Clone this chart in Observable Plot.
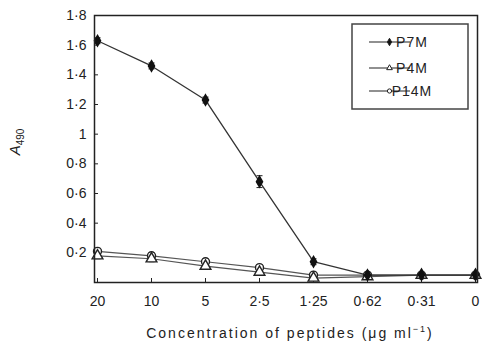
<!DOCTYPE html>
<html>
<head>
<meta charset="utf-8">
<script src="https://cdn.jsdelivr.net/npm/d3@7"></script>
<script src="https://cdn.jsdelivr.net/npm/@observablehq/plot@0.6"></script>
<style>
  html, body { margin: 0; padding: 0; background: #fff; }
  #chart { width: 485px; height: 349px; }
</style>
</head>
<body>
<div id="chart"></div>
<script>
// Categories (x axis, µg/ml)
const concentrations = ["20", "10", "5", "2·5", "1·25", "0·62", "0·31", "0"];
// Series values (A490)
const p7m  = [1.63, 1.46, 1.23, 0.68, 0.14, 0.05, 0.05, 0.05];
const p7mErr  = [0.02, 0.02, 0.02, 0.04, 0.02, 0.01, 0.01, 0.01];
const p4m  = [0.18, 0.16, 0.11, 0.07, 0.03, 0.04, 0.05, 0.05];
const p4mErr  = [0.02, 0.02, 0.02, 0.02, 0.01, 0.01, 0.01, 0.01];
const p14m = [0.21, 0.18, 0.14, 0.10, 0.05, 0.05, 0.05, 0.05];
const p14mErr = [0.02, 0.02, 0.02, 0.02, 0.01, 0.01, 0.01, 0.01];
const seriesNames = ["P7M", "P4M", "P14M"];
// Tick values / labels
const yTicks = [0.2, 0.4, 0.6, 0.8, 1, 1.2, 1.4, 1.6, 1.8];
const yTickLabels = ["0·2", "0·4", "0·6", "0·8", "1", "1·2", "1·4", "1·6", "1·8"];

const seriesValues = [p7m, p4m, p14m];
const seriesErrs = [p7mErr, p4mErr, p14mErr];
const rows = [];
seriesNames.forEach((s, si) => {
  concentrations.forEach((c, i) => {
    rows.push({series: s, conc: c, v: seriesValues[si][i], lo: seriesValues[si][i] - seriesErrs[si][i], hi: seriesValues[si][i] + seriesErrs[si][i]});
  });
});
const bySeries = s => rows.filter(d => d.series === s);
const font = "'Liberation Sans', Arial, Helvetica, sans-serif";
const ink = "#222";
const capSymbol = {draw(ctx) { ctx.moveTo(-3, 0); ctx.lineTo(3, 0); }};

const plot = Plot.plot({
  width: 485,
  height: 349,
  marginLeft: 94,
  marginRight: 8,
  marginTop: 15,
  marginBottom: 67,
  style: {fontFamily: font, fontSize: "14px", color: ink, background: "#fff"},
  x: {type: "point", domain: concentrations, padding: 0},
  y: {domain: [0, 1.8]},
  marks: [
    Plot.axisY({ticks: yTicks, tickSize: -4, tickPadding: 12, tickFormat: v => yTickLabels[yTicks.indexOf(v)], label: null, stroke: ink, style: "letter-spacing:1.5px"}),
    Plot.axisX({tickSize: -4, tickPadding: 18, label: null, stroke: ink, style: "letter-spacing:1.5px"}),
    // error bars
    Plot.ruleX(rows, {x: "conc", y1: "lo", y2: "hi", stroke: ink, strokeWidth: 1}),
    Plot.dot(rows, {x: "conc", y: "lo", symbol: capSymbol, stroke: ink, strokeWidth: 1}),
    Plot.dot(rows, {x: "conc", y: "hi", symbol: capSymbol, stroke: ink, strokeWidth: 1}),
    // lines
    Plot.line(bySeries("P14M"), {x: "conc", y: "v", stroke: "#555", strokeWidth: 1.2}),
    Plot.line(bySeries("P4M"), {x: "conc", y: "v", stroke: "#555", strokeWidth: 1.2}),
    Plot.line(bySeries("P7M"), {x: "conc", y: "v", stroke: "#333", strokeWidth: 1.3}),
    // markers
    Plot.dot(bySeries("P14M"), {x: "conc", y: "v", symbol: "circle", r: 4, fill: "white", stroke: ink, strokeWidth: 1.4}),
    Plot.dot(bySeries("P4M"), {x: "conc", y: "v", symbol: "triangle", r: 4, fill: "white", stroke: ink, strokeWidth: 1.4}),
    Plot.dot(bySeries("P7M"), {x: "conc", y: "v", symbol: "diamond", r: 3.2, fill: "#111", stroke: "#111"}),
    Plot.frame({stroke: ink, strokeWidth: 1.5})
  ]
});
document.getElementById("chart").appendChild(plot);

// Axis titles and legend
const svg = d3.select(plot);
const yt = svg.append("text")
  .attr("transform", "translate(20,142) rotate(-90)")
  .attr("text-anchor", "middle")
  .attr("font-family", font)
  .attr("fill", ink);
yt.append("tspan").attr("font-size", 15).attr("font-style", "italic").text("A");
yt.append("tspan").attr("font-size", 10).attr("dy", 4).text("490");

const xt = svg.append("text")
  .attr("x", 290).attr("y", 338)
  .attr("text-anchor", "middle")
  .attr("font-family", font)
  .attr("font-size", 14)
  .attr("letter-spacing", "2px")
  .attr("fill", ink);
xt.append("tspan").text("Concentration of peptides (μg ml");
xt.append("tspan").attr("font-size", 9).attr("dy", -6).text("−1");
xt.append("tspan").attr("dy", 6).text(")");

const lg = svg.append("g");
lg.append("rect").attr("x", 352).attr("y", 24).attr("width", 116).attr("height", 85)
  .attr("fill", "white").attr("stroke", "#444").attr("stroke-width", 1.5);
const legendY = [42, 68, 91];
const legendSym = [d3.symbolDiamond, d3.symbolTriangle, d3.symbolCircle];
seriesNames.forEach((s, i) => {
  const y = legendY[i];
  lg.append("line").attr("x1", 369).attr("x2", 410).attr("y1", y).attr("y2", y).attr("stroke", ink).attr("stroke-width", 1.2);
  lg.append("path").attr("d", d3.symbol(legendSym[i], i === 0 ? 16 : 14)())
    .attr("transform", `translate(389.5,${y})`)
    .attr("fill", i === 0 ? "#111" : "white").attr("stroke", ink).attr("stroke-width", 1);
  lg.append("text").attr("x", 412).attr("y", y + 5)
    .attr("font-family", font).attr("font-size", 14).attr("letter-spacing", "1px")
    .attr("fill", ink).text(s);
});
</script>
</body>
</html>
